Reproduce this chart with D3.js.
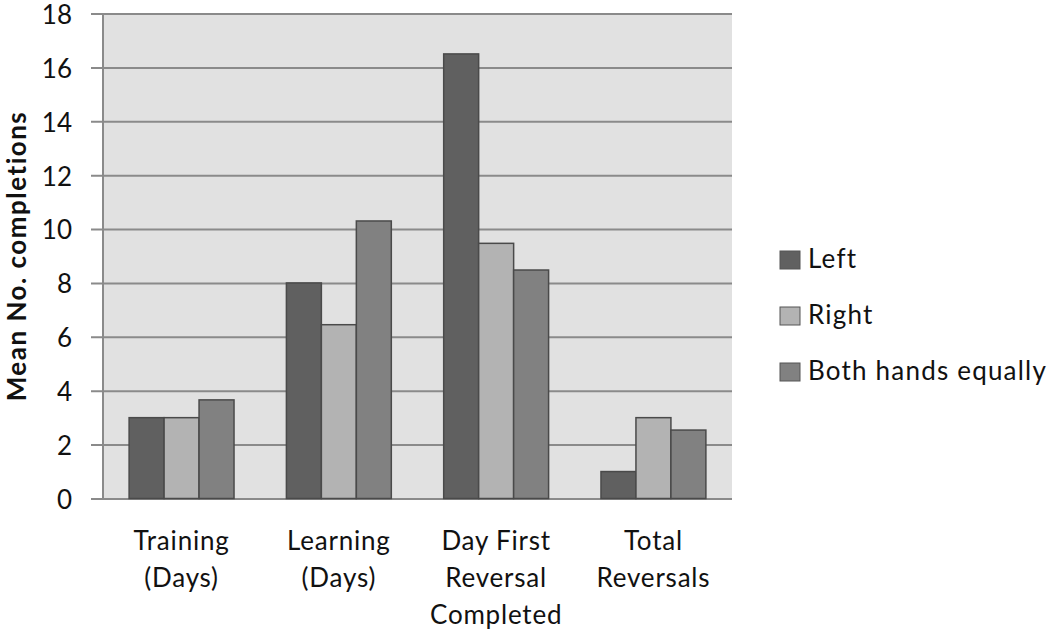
<!DOCTYPE html>
<html>
<head>
<meta charset="utf-8">
<script src="https://cdn.jsdelivr.net/npm/d3@7"></script>
<style>
  body { margin: 0; background: #fff; }
  text { font-family: Lato, "Open Sans", sans-serif; fill: #111; }
</style>
</head>
<body>
<div id="chart"></div>
<script>
// categories, each one split in display lines
let categories = ['Training', 'Learning', 'DayFirst', 'Total'];
let categoryLines = [
    ['Training', '(Days)'],
    ['Learning', '(Days)'],
    ['Day First', 'Reversal', 'Completed'],
    ['Total', 'Reversals']
];
let seriesNames = ['Left', 'Right', 'Both hands equally'];
let leftValues  = [3.0, 8.0, 16.5, 1.0];
let rightValues = [3.0, 6.45, 9.47, 3.0];
let bothValues  = [3.66, 10.3, 8.48, 2.54];
let seriesColors = ['#606060', '#b3b3b3', '#818181'];
let yTicks = [0, 2, 4, 6, 8, 10, 12, 14, 16, 18];

let width = 1050, height = 633;
let margin = {top: 13.5, left: 103, right: 318, bottom: 134.5};
let fontSize = '26px';

let svg = d3.select('#chart').append('svg')
    .attr('width', width)
    .attr('height', height);

let x0 = d3.scaleBand()
    .domain(categories)
    .range([margin.left, width - margin.right])
    .paddingInner(0.333)
    .paddingOuter(0.166);

let x1 = d3.scaleBand()
    .domain(seriesNames)
    .range([0, x0.bandwidth()]);

let y = d3.scaleLinear()
    .domain([0, 18])
    .range([height - margin.bottom, margin.top]);

let color = d3.scaleOrdinal().domain(seriesNames).range(seriesColors);

// plot background
svg.append('rect')
    .attr('x', margin.left)
    .attr('y', y(18))
    .attr('width', width - margin.right - margin.left)
    .attr('height', y(0) - y(18))
    .attr('fill', '#e1e1e1');

// gridlines + y axis
let yAxis = d3.axisLeft(y)
    .tickValues(yTicks)
    .tickSize(-(width - margin.right - margin.left))
    .tickPadding(31)
    .tickSizeOuter(0);

let gy = svg.append('g')
    .attr('transform', `translate(${margin.left},0)`)
    .call(yAxis);
gy.select('.domain').remove();
gy.selectAll('.tick line')
    .attr('x1', -12)
    .attr('stroke', '#8a8a8a')
    .attr('stroke-width', 2);
gy.selectAll('.tick text')
    .style('font-size', fontSize)
    .attr('dy', '0.38em')
    .attr('fill', '#111');

svg.append('line')
    .attr('x1', margin.left).attr('x2', margin.left)
    .attr('y1', y(18)).attr('y2', y(0))
    .attr('stroke', '#8a8a8a')
    .attr('stroke-width', 2);

// bars
let table = categories.map((c, i) => ({
    cat: c,
    vals: [leftValues[i], rightValues[i], bothValues[i]]
}));

let groups = svg.append('g').selectAll('g')
    .data(table)
    .join('g')
    .attr('transform', d => `translate(${x0(d.cat)},0)`);

groups.selectAll('rect')
    .data(d => d.vals.map((v, j) => ({name: seriesNames[j], v: v})))
    .join('rect')
    .attr('x', d => x1(d.name))
    .attr('y', d => y(d.v))
    .attr('width', x1.bandwidth())
    .attr('height', d => y(0) - y(d.v))
    .attr('fill', d => color(d.name))
    .attr('stroke', '#4a4a4a')
    .attr('stroke-width', 1.5);

// x labels
let xl = svg.append('g').selectAll('text')
    .data(categories)
    .join('text')
    .attr('text-anchor', 'middle')
    .attr('x', d => x0(d) + x0.bandwidth() / 2)
    .attr('y', 550)
    .style('font-size', fontSize)
    .style('letter-spacing', '0.8px');

xl.selectAll('tspan')
    .data((d, i) => categoryLines[i])
    .join('tspan')
    .attr('x', function () { return d3.select(this.parentNode).attr('x'); })
    .attr('dy', (d, i) => i === 0 ? 0 : 37)
    .text(d => d);

// y title
svg.append('text')
    .attr('transform', `translate(26,${(y(0) + y(18)) / 2}) rotate(-90)`)
    .attr('text-anchor', 'middle')
    .style('font-size', fontSize)
    .style('font-weight', 'bold')
    .style('letter-spacing', '1.5px')
    .text('Mean No. completions');

// legend
let legend = svg.append('g').selectAll('g')
    .data(seriesNames)
    .join('g')
    .attr('transform', (d, i) => `translate(780,${251 + i * 56})`);

legend.append('rect')
    .attr('width', 20)
    .attr('height', 18)
    .attr('fill', d => color(d))
    .attr('stroke', '#555')
    .attr('stroke-width', 1);

legend.append('text')
    .attr('x', 28)
    .attr('y', 17)
    .style('font-size', fontSize)
    .style('letter-spacing', '1.2px')
    .text(d => d);
</script>
</body>
</html>
